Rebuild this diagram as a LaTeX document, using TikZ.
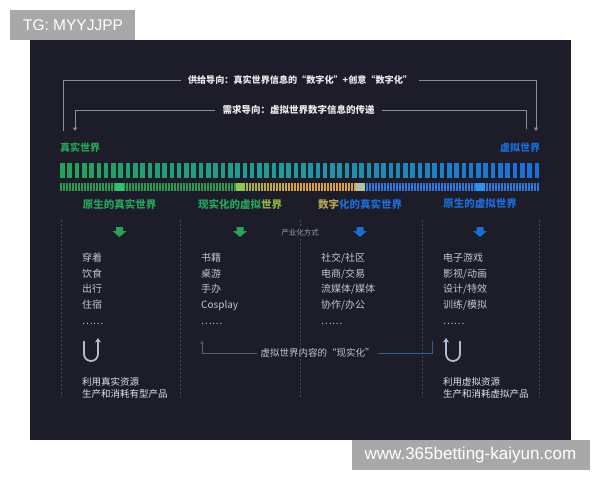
\documentclass[tikz,border=0pt]{standalone}
\usepackage{fontspec}
\setmainfont{Noto Sans CJK SC}
\newfontfamily\markfont{Liberation Sans}
\usetikzlibrary{arrows.meta,positioning}

\definecolor{panelbg}{HTML}{1C1D29}
\definecolor{guidegray}{HTML}{8C8E98}
\definecolor{itemgray}{HTML}{C4C6CC}
\definecolor{notewhite}{HTML}{E2E3E6}
\definecolor{worldGreen}{HTML}{27A35B}
\definecolor{worldBlue}{HTML}{1F6BD6}
\definecolor{secLime}{HTML}{8FB244}
\definecolor{secKhaki}{HTML}{B2A458}
\definecolor{barGreen}{HTML}{22A35A}
\definecolor{barTeal}{HTML}{1E9AA0}
\definecolor{barBlue}{HTML}{1B6EE0}
\definecolor{tickGreen}{HTML}{2A9A55}
\definecolor{tickLime}{HTML}{A8B448}
\definecolor{tickOrange}{HTML}{DCA044}
\definecolor{tickBlue}{HTML}{2C78DC}
\definecolor{blockGreen}{HTML}{2FC070}
\definecolor{blockLime}{HTML}{92C450}
\definecolor{blockPale}{HTML}{B0BFA8}
\definecolor{blockBlue}{HTML}{3090F0}
\definecolor{divgray}{HTML}{4A4C58}
\definecolor{uturngray}{HTML}{B4BCCB}
\definecolor{realTeal}{HTML}{4E6670}
\definecolor{realBlue}{HTML}{3A5A90}
\definecolor{markgray}{HTML}{A8A8A8}

\tikzset{
  guide/.style={draw=guidegray, line width=0.8pt},
  guidetip/.style={-{Triangle[width=4pt,length=3.5pt]}},
  toplabel/.style={text=white!92!black, font=\bfseries\fontsize{9.5}{11}\selectfont, inner xsep=7pt, inner ysep=2pt},
  worldlabel/.style={font=\bfseries\fontsize{10}{12}\selectfont, inner sep=0pt},
  section/.style={font=\bfseries\fontsize{10.5}{12}\selectfont, inner sep=0pt},
  item/.style={anchor=west, text=itemgray, font=\fontsize{10}{12}\selectfont, inner sep=0pt, text height=8.5pt, text depth=1.5pt},
  note/.style={anchor=west, text=notewhite, font=\fontsize{9.5}{11}\selectfont, inner sep=0pt, text height=8pt, text depth=1.5pt},
  divider/.style={draw=divgray, line width=0.6pt, dash pattern=on 2pt off 2pt},
  uturn/.style={draw=uturngray, line width=1.8pt, -{Stealth[length=4.5pt,width=6pt]}},
}

\begin{document}
\begin{tikzpicture}[x=1pt,y=-1pt]
  \useasboundingbox (0,0) rectangle (600,480);

  % dark panel
  \fill[panelbg] (30,40) rectangle (571,440);

  % column centres
  \def\colA{119.5}
  \def\colB{240}
  \def\colC{360}
  \def\colD{480}

  % supply / demand guide lines
  \node[toplabel, font=\bfseries\fontsize{9.1}{11}\selectfont] (supply) at (300,80) {供给导向：真实世界信息的“数字化”+创意“数字化”};
  \node[toplabel] (demand) at (298.5,110) {需求导向：虚拟世界数字信息的传递};
  \coordinate (supL) at (63,131);
  \coordinate (supR) at (536,131);
  \coordinate (demL) at (75,131);
  \coordinate (demR) at (526,129);
  \draw[guide] (supply.west) -| (supL);
  \draw[guide,guidetip] (supply.east) -| (supR);
  \draw[guide,guidetip] (demand.west) -| (demL);
  \draw[guide] (demand.east) -| (demR);

  % the two worlds
  \node[worldlabel, text=worldGreen] (realworld) at (80,148) {真实世界};
  \node[worldlabel, text=worldBlue] (virtualworld) at (520,148) {虚拟世界};

  % big striped bar
  \foreach \i in {0,...,65} {
    \pgfmathsetmacro\xs{60+7.3*\i}
    \ifnum\i<33
      \pgfmathtruncatemacro\p{100*\i/32}
      \fill[barTeal!\p!barGreen] (\xs,163) rectangle ++(4.6,15);
    \else
      \pgfmathtruncatemacro\p{100*(\i-32)/33}
      \fill[barBlue!\p!barTeal] (\xs,163) rectangle ++(4.6,15);
    \fi
  }

  % thin tick bar
  \foreach \i in {0,...,159} {
    \pgfmathsetmacro\xs{60+3*\i}
    \ifnum\i<60 \def\sc{tickGreen}\else
      \ifnum\i<80 \pgfmathtruncatemacro\p{5*(\i-60)}\edef\sc{tickOrange!\p!tickLime}\else
        \ifnum\i<100 \def\sc{tickOrange}\else \def\sc{tickBlue}\fi\fi\fi
    \fill[\sc] (\xs,183) rectangle ++(1.8,8);
  }
  \fill[blockGreen] (\colA-4.5,183) rectangle ++(9,8);
  \fill[blockLime]  (\colB-4.5,183) rectangle ++(9,8);
  \fill[blockPale]  (\colC-4.5,183) rectangle ++(9,8);
  \fill[blockBlue]  (\colD-4.5,183) rectangle ++(9,8);

  % section titles
  \node[section, text=worldGreen] (rawreal) at (\colA,204) {原生的真实世界};
  \node[section] (recvirtual) at (\colB,204) {{\color{worldGreen}现实化的虚拟}{\color{secLime}世界}};
  \node[section] (digreal) at (\colC,204) {{\color{secKhaki}数字}{\color{worldBlue}化的真实世界}};
  \node[section, text=worldBlue] (rawvirtual) at (\colD,204) {原生的虚拟世界};

  % down arrows
  \foreach \cx/\cc in {\colA/worldGreen, \colB/worldGreen, \colC/worldBlue, \colD/worldBlue}
    \fill[\cc] (\cx-3.5,227) -- (\cx+3.5,227) -- (\cx+3.5,231) -- (\cx+7,231)
      -- (\cx,237) -- (\cx-7,231) -- (\cx-3.5,231) -- cycle;

  % dashed dividers
  \foreach \dx in {61,180,422,539}
    \draw[divider] (\dx,220) -- (\dx,397);
  \node[text=itemgray!80!black, font=\fontsize{7.5}{9}\selectfont, inner sep=2pt] (mode) at (300,233) {产业化方式};
  \draw[divider] (300,220) -- (mode.north);
  \draw[divider] (mode.south) -- (300,397);

  % item lists
  \foreach \t [count=\k] in {穿着,饮食,出行,住宿,……}
    \node[item] (raw-\k) at (82,242.3+15.7*\k) {\t};
  \foreach \t [count=\k] in {书籍,桌游,手办,Cosplay,……}
    \node[item] (rec-\k) at (201,242.3+15.7*\k) {\t};
  \foreach \t [count=\k] in {社交/社区,电商/交易,流媒体/媒体,协作/办公,……}
    \node[item] (dig-\k) at (321,242.3+15.7*\k) {\t};
  \foreach \t [count=\k] in {电子游戏,影视/动画,设计/特效,训练/模拟,……}
    \node[item] (vir-\k) at (443,242.3+15.7*\k) {\t};

  % realisation of virtual content
  \node[text=itemgray, font=\fontsize{9.5}{11}\selectfont, inner xsep=3pt] (realize) at (317.5,353) {虚拟世界内容的“现实化”};
  \coordinate (realL) at (202,341);
  \coordinate (realR) at (432,341);
  \draw[draw=realTeal, line width=0.8pt, -{Triangle[width=3pt,length=2.5pt]}] (realize.west) -| (realL);
  \draw[draw=realBlue, line width=0.8pt] (realize.east) -| (realR);

  % u-turn arrows
  \draw[uturn] (84,341) -- (84,354) arc[start angle=180,end angle=0,radius=7] -- (98,338);
  \draw[uturn] (460,341) -- (460,354) arc[start angle=0,end angle=180,radius=7] -- (446,338);

  % notes
  \node[note] (rawnote1) at (82,382) {利用真实资源};
  \node[note] (rawnote2) at (82,394.5) {生产和消耗有型产品};
  \node[note] (virnote1) at (443,382) {利用虚拟资源};
  \node[note] (virnote2) at (443,394.5) {生产和消耗虚拟产品};

  % watermarks
  \fill[markgray] (10,10) rectangle (135,40);
  \node[text=white, font=\markfont\fontsize{15.5}{18}\selectfont] (tgmark) at (73,25.5) {TG: MYYJJPP};
  \fill[markgray] (352,440) rectangle (590,470);
  \node[text=white, font=\markfont\fontsize{17}{20}\selectfont] (sitemark) at (470.5,455.5) {www.365betting-kaiyun.com};
\end{tikzpicture}
\end{document}
